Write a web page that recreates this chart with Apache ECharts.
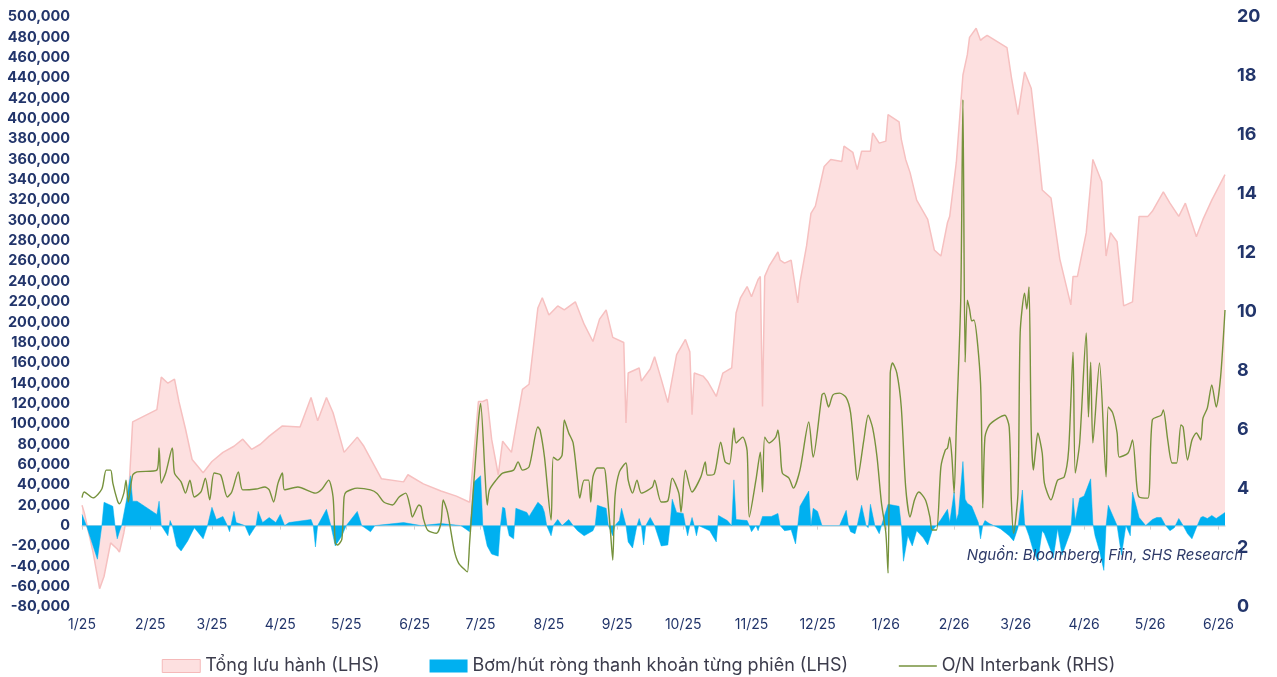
<!DOCTYPE html>
<html><head><meta charset="utf-8">
<script src="https://cdn.jsdelivr.net/npm/echarts@6/dist/echarts.min.js"></script>
<style>html,body{margin:0;padding:0;background:#fff}#c{width:1277px;height:677px}</style>
</head><body><div id="c"></div>
<script>
// x values are days since 2025-01-01
const monthTickDays = [0,31,59,90,120,151,181,212,243,273,304,334,365,396,424,455,485,516];
const monthLabels = ['1/25','2/25','3/25','4/25','5/25','6/25','7/25','8/25','9/25','10/25','11/25','12/25','1/26','2/26','3/26','4/26','5/26','6/26'];

// Tổng lưu hành (LHS)
const outstandingDays = [0,1,5,8,10,13,16,17,19,20,21,23,34,36,39,42,44,47,50,55,59,64,69,73,77,81,85,91,99,104,107,111,114,119,125,128,136,146,148,155,163,170,176,180,182,184,186,189,191,195,200,203,207,209,212,216,219,224,228,232,235,238,241,246,247,248,253,254,258,260,263,266,270,274,276,277,278,282,284,288,291,295,297,299,302,304,307,308,309,310,312,316,317,319,322,325,326,329,331,333,337,340,345,346,350,352,354,358,359,362,365,366,371,372,374,376,379,384,387,390,393,394,397,400,402,403,406,408,409,411,420,422,425,428,431,434,436,440,444,449,450,452,456,459,463,465,467,470,473,477,480,484,486,491,494,498,501,506,509,513,519];
const outstandingValues = [20000,13000,-26000,-62000,-50000,-17000,-23000,-26000,-7000,6000,23000,102000,114000,146000,140000,144000,122000,95000,65000,52000,63000,72000,78000,85000,75000,80000,88000,98000,97000,126000,103000,126000,111000,72000,87000,78000,46000,43000,50000,41000,34000,29000,23000,122000,122000,124000,85000,50000,83000,72000,134000,139000,214000,224000,207000,216000,212000,220000,198000,181000,203000,212000,185000,180000,101000,150000,155000,142000,154000,166000,144000,121000,168000,183000,171000,109000,150000,147000,142000,127000,150000,155000,209000,224000,235000,225000,242000,245000,117000,245000,255000,269000,261000,258000,261000,219000,239000,275000,307000,314000,353000,360000,358000,373000,367000,350000,368000,368000,386000,376000,378000,404000,397000,380000,360000,347000,320000,301000,271000,265000,298000,304000,357000,443000,463000,480000,489000,477000,479000,482000,470000,441000,404000,446000,430000,373000,330000,322000,262000,217000,245000,245000,288000,360000,338000,265000,288000,279000,216000,220000,304000,304000,309000,328000,317000,304000,317000,284000,301000,320000,345000];

// Bơm/hút ròng thanh khoản từng phiên (LHS)
const netFlowDays = [0,2,7,9,10,14,15,16,17,18,20,22,23,25,34,35,36,39,40,41,43,45,48,51,55,57,59,61,64,66,67,69,70,74,76,79,80,82,85,88,90,92,94,104,105,106,107,111,113,115,118,120,125,127,131,133,146,154,163,172,176,178,181,182,184,186,189,190,191,192,193,194,196,197,202,203,207,209,210,211,213,214,216,218,221,223,225,228,232,233,234,238,239,241,242,244,245,247,248,250,252,253,254,255,256,258,260,263,266,267,268,270,273,274,275,276,277,278,279,280,285,288,289,293,295,296,297,302,303,304,306,307,309,313,316,317,319,322,324,325,326,330,331,332,334,336,344,347,348,349,351,352,354,356,357,358,360,362,363,366,371,372,373,375,377,379,382,384,386,388,390,393,394,396,397,398,400,401,402,404,407,408,409,410,412,417,421,423,425,427,428,430,432,434,436,437,440,441,443,445,447,449,450,451,453,455,458,459,460,462,464,465,466,468,470,472,474,476,477,480,483,486,488,490,492,494,496,498,500,502,504,506,508,509,511,513,515,517,519];
const netFlowValues = [11000,0,-33000,0,23000,19000,0,-13000,-6000,0,23000,49000,24000,24000,11000,24000,0,-10000,5000,0,-20000,-25000,-15000,-2000,-13000,0,18000,6000,9000,0,-6000,14000,3000,0,-10000,0,14000,3000,8000,3000,11000,0,3000,6000,0,-21000,0,16000,0,-20000,-10000,0,14000,0,-6000,0,3000,0,2000,0,-6000,43000,49000,0,-20000,-28000,-30000,0,18000,17000,0,-10000,-13000,17000,13000,9000,23000,19000,13000,0,-10000,0,6000,0,6000,0,-5000,-10000,-5000,0,20000,17000,0,-10000,0,5000,17000,0,-16000,-22000,0,7000,0,-19000,0,8000,0,-20000,-19000,0,26000,13000,12000,0,-10000,0,8000,0,-10000,0,-5000,-16000,10000,5000,0,45000,6000,5000,0,-6000,0,-5000,9000,9000,12000,0,-5000,-4000,-18000,0,19000,34000,0,17000,14000,0,0,15000,0,-6000,-8000,0,20000,0,-2000,21000,0,-8000,0,21000,19000,0,-35000,-10000,-20000,-5000,-12000,-19000,-5000,0,6000,16000,3000,33000,5000,12000,63000,26000,22000,19000,3000,-13000,0,5000,2000,-3000,-10000,-15000,-2000,35000,2000,-10000,-25000,-35000,-5000,-8000,-25000,-32000,-3000,-29000,-17000,-5000,27000,5000,27000,29000,46000,2000,-10000,-25000,-44000,0,20000,10000,0,-29000,0,-10000,33000,8000,0,6000,8000,8000,0,-5000,-2000,7000,0,-8000,-13000,-2000,8000,9000,7000,10000,7000,10000,13000];

// O/N Interbank (RHS), %
const onRateDays = [0,1,5,9,11,13,14,16,17,19,20,21,23,25,34,35,36,38,41,42,45,47,49,51,54,56,58,60,63,66,68,71,73,79,83,85,87,89,91,92,98,106,109,112,114,115,116,118,119,120,125,131,134,137,141,144,147,149,150,153,154,155,157,161,163,164,166,169,171,174,175,176,178,180,181,183,184,185,188,191,196,198,200,203,207,208,210,213,214,216,218,219,221,223,225,226,228,230,231,232,234,237,238,240,241,242,244,247,248,250,252,254,259,260,263,266,268,271,272,274,277,281,283,284,287,290,292,294,296,297,300,302,303,306,308,309,310,312,315,316,317,318,321,323,326,330,332,336,337,339,341,344,347,349,351,352,355,357,359,361,363,365,366,367,368,370,372,374,376,378,380,383,385,386,388,390,392,393,394,395,396,397,399,400,401,402,403,404,405,408,409,410,412,416,419,421,422,423,425,426,428,429,430,431,432,433,434,436,437,440,443,446,448,450,451,453,456,457,458,459,462,465,466,468,470,471,475,477,479,480,484,486,490,491,493,495,497,499,500,502,504,506,508,509,511,513,515,517,519];
const onRateValues = [3.71,3.9,3.7,4.0,4.64,4.64,4.2,3.63,3.5,3.86,4.3,3.56,4.47,4.58,4.64,5.39,4.2,4.54,5.39,4.54,4.24,3.86,4.3,3.73,3.9,4.37,3.63,4.54,4.47,3.73,3.9,4.58,3.97,4.0,4.07,3.97,3.56,4.2,4.54,3.97,4.07,3.86,4.0,4.3,3.73,2.17,2.1,2.3,3.73,3.9,4.03,3.97,3.85,3.56,3.46,3.73,3.86,3.39,3.05,3.46,3.4,3.0,2.6,2.5,2.85,3.63,3.2,1.93,1.49,1.25,1.19,2.17,4.3,6.3,6.9,4.5,3.46,3.97,4.3,4.54,4.64,4.92,4.64,4.75,6.1,6.0,5.08,2.95,5.08,4.98,5.15,6.34,5.9,5.56,4.3,3.69,4.3,4.3,3.56,4.41,4.71,4.71,4.3,2.51,1.59,3.73,4.58,4.88,4.3,3.86,4.3,3.86,4.07,4.3,3.56,3.6,4.37,3.86,3.22,4.64,3.9,4.41,4.92,4.47,4.5,5.59,4.92,4.85,6.07,5.56,5.76,5.3,3.05,4.3,5.25,3.9,5.76,5.56,5.76,6.0,5.4,4.54,4.37,4.03,4.64,6.27,5.08,7.19,7.25,6.78,7.19,7.25,7.1,6.58,4.98,4.3,5.66,6.5,6.07,5.08,3.53,2.51,1.15,7.93,8.27,7.93,6.78,4.07,3.05,3.63,3.9,3.63,3.05,2.61,2.61,4.75,5.32,5.39,5.76,5.08,3.86,6.1,10.4,17.2,8.3,10.4,10.1,9.7,9.73,7.59,3.36,5.76,6.17,6.4,6.5,6.1,3.6,2.5,3.86,9.3,10.64,10.1,10.85,6.0,4.64,5.32,5.9,5.22,4.2,3.63,4.3,4.41,5.32,8.64,4.54,5.56,9.29,6.44,8.3,5.56,8.27,4.41,6.78,6.58,5.9,5.08,5.22,5.66,4.07,3.73,3.69,6.34,6.5,6.68,5.66,4.88,4.88,6.17,6.1,4.98,5.66,5.9,5.66,6.4,6.75,7.53,6.78,7.8,10.07];

const zip = (xs, ys) => xs.map((x, i) => [x, ys[i]]);
const NAVY = '#22356B';
const FONT = 'Inter';
const names = ['Tổng lưu hành (LHS)', 'Bơm/hút ròng thanh khoản từng phiên (LHS)', 'O/N Interbank (RHS)'];

const chart = echarts.init(document.getElementById('c'), null, {renderer: 'canvas'});
chart.setOption({
  animation: false,
  backgroundColor: '#ffffff',
  grid: {left: 82, right: 52, top: 17, bottom: 70, containLabel: false},
  legend: {
    left: 'center', top: 652, itemWidth: 38, itemHeight: 13, itemGap: 50,
    textStyle: {fontSize: 18, color: '#3C3C4C', fontFamily: FONT},
    data: [
      {name: names[0], icon: 'rect', itemStyle: {color: '#FDE0E0', borderColor: '#F5B9B9', borderWidth: 1}},
      {name: names[1], icon: 'rect', itemStyle: {color: '#00B0F0', borderWidth: 0}},
      {name: names[2], itemStyle: {opacity: 0}, lineStyle: {color: '#76923C', width: 1.5}}
    ]
  },
  xAxis: [
    {type: 'value', min: 0, max: 519,
     axisLine: {show: false, onZero: false}, axisTick: {show: false}, splitLine: {show: false},
     axisLabel: {customValues: monthTickDays, formatter: v => monthLabels[monthTickDays.indexOf(v)] || '',
       color: NAVY, fontSize: 14, fontFamily: FONT, margin: 11}},
    {type: 'value', min: 0, max: 519, position: 'bottom',
     axisLine: {show: true, onZero: true, onZeroAxisIndex: 0, lineStyle: {color: '#D9D9D9', width: 1.5}},
     axisTick: {show: true, customValues: monthTickDays, length: 4, lineStyle: {color: '#D0D0D0'}},
     axisLabel: {show: false}, splitLine: {show: false}}
  ],
  yAxis: [
    {type: 'value', min: -80000, max: 500000, interval: 20000,
     axisLine: {show: false}, axisTick: {show: false}, splitLine: {show: false},
     axisLabel: {formatter: v => v.toLocaleString('en-US'), color: NAVY, fontSize: 14.5, fontWeight: 'bold', fontFamily: FONT, margin: 12}},
    {type: 'value', min: 0, max: 20, interval: 2, position: 'right',
     axisLine: {show: false}, axisTick: {show: false}, splitLine: {show: false},
     axisLabel: {color: NAVY, fontSize: 18, fontWeight: 'bold', fontFamily: FONT, margin: 12}}
  ],
  graphic: [{
    type: 'text', right: 34, top: 548, z: 100,
    style: {text: 'Nguồn: Bloomberg, Fiin, SHS Research', font: 'italic 15px Inter', fill: '#2E3A68'}
  }],
  series: [
    {name: names[0], type: 'line', xAxisIndex: 0, yAxisIndex: 0, data: zip(outstandingDays, outstandingValues),
     showSymbol: false, symbol: 'none', lineStyle: {color: '#F6C0C0', width: 1.5},
     itemStyle: {color: '#FDE0E0'}, areaStyle: {color: '#FDE0E0', opacity: 1}, z: 1},
    {name: names[1], type: 'line', xAxisIndex: 0, yAxisIndex: 0, data: zip(netFlowDays, netFlowValues),
     showSymbol: false, symbol: 'none', lineStyle: {color: '#00B0F0', width: 0.5},
     itemStyle: {color: '#00B0F0'}, areaStyle: {color: '#00B0F0', opacity: 1}, z: 2},
    {name: names[2], type: 'line', xAxisIndex: 0, yAxisIndex: 1, data: zip(onRateDays, onRateValues),
     showSymbol: false, symbol: 'none', smooth: 0.25, lineStyle: {color: '#76923C', width: 1.4},
     itemStyle: {color: '#76923C'}, z: 3}
  ]
});
</script></body></html>
